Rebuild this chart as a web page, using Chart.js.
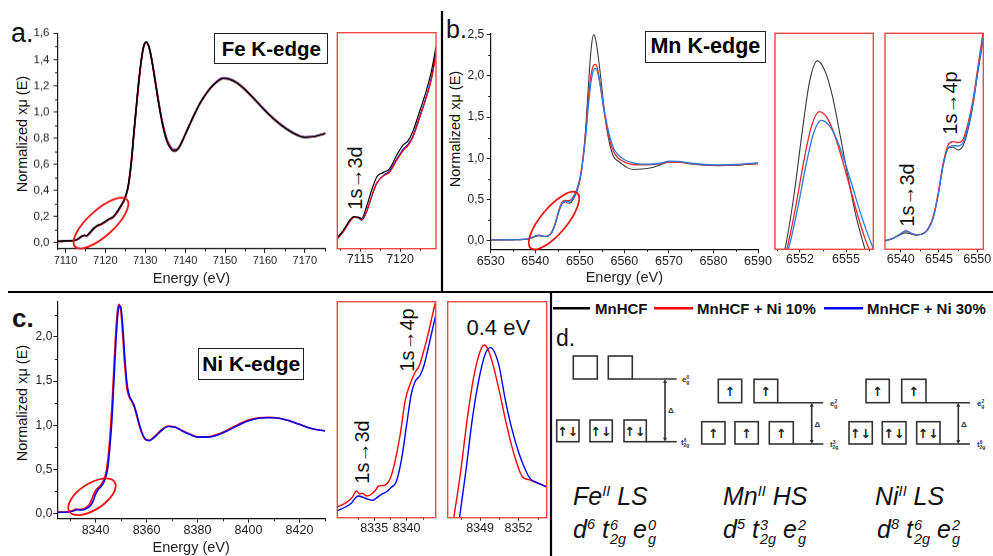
<!DOCTYPE html>
<html><head><meta charset="utf-8">
<script src="https://cdn.jsdelivr.net/npm/chart.js@4.4.1/dist/chart.umd.min.js"></script>
<style>
html,body{margin:0;padding:0;background:#fff;}
body{width:993px;height:556px;position:relative;overflow:hidden;font-family:"Liberation Sans",Arial,Helvetica,sans-serif;color:#111;}
canvas{position:absolute;}
.t{position:absolute;white-space:nowrap;line-height:1;}
.box{position:absolute;border:1.5px solid #222;box-sizing:border-box;display:flex;align-items:center;justify-content:center;font-weight:bold;color:#000;white-space:nowrap;}
.rot{position:absolute;white-space:nowrap;line-height:1;transform:translate(-50%,-50%) rotate(-90deg);color:#111;}
.ctr{position:absolute;white-space:nowrap;line-height:1;transform:translate(-50%,-50%);color:#111;}
.it{font-style:italic;font-size:25px;color:#111;}
.st{display:inline-block;vertical-align:-0.43em;font-size:0.58em;line-height:1;text-align:left;margin-left:1px;}
.st span{display:block;}
sup{font-size:0.58em;vertical-align:0.62em;line-height:0;}
.leg{position:absolute;white-space:nowrap;line-height:1;font-weight:bold;font-size:15px;color:#111;top:301px;}
</style></head><body>

<svg width="993" height="556" style="position:absolute;left:0;top:0" xmlns="http://www.w3.org/2000/svg" font-family="Liberation Sans, Arial, sans-serif">
<g stroke="#000" stroke-width="2.2" fill="none">
<line x1="442" y1="11" x2="442" y2="292"/>
<line x1="8" y1="292" x2="993" y2="292"/>
<line x1="551" y1="292" x2="551" y2="556"/>
</g>
<g stroke-width="2.5">
<line x1="553" y1="308.3" x2="590" y2="308.3" stroke="#000"/>
<line x1="654" y1="308.3" x2="693" y2="308.3" stroke="#f00"/>
<line x1="824" y1="308.3" x2="863" y2="308.3" stroke="#00f"/>
</g>
<g stroke="#333" stroke-width="1.6" fill="none">
<rect x="573.3" y="356" width="24" height="23"/>
<rect x="608.3" y="356" width="24" height="23"/>
<line x1="632.3" y1="379" x2="676.7" y2="379"/>
<rect x="556.7" y="420" width="22.3" height="21.7"/>
<rect x="590" y="420" width="22.3" height="21.7"/>
<rect x="624" y="420" width="22.3" height="21.7"/>
<line x1="646.3" y1="441.7" x2="676.7" y2="441.7"/>
<line x1="665" y1="381" x2="665" y2="440"/>
<rect x="718.3" y="379.3" width="23.4" height="23.4"/>
<rect x="754" y="379.3" width="23.7" height="23.4"/>
<line x1="777.7" y1="402.7" x2="823.3" y2="402.7"/>
<rect x="701.7" y="421.7" width="23.3" height="22.3"/>
<rect x="735" y="421.7" width="23.3" height="22.3"/>
<rect x="769.3" y="421.7" width="24" height="22.3"/>
<line x1="793.3" y1="444" x2="823.3" y2="444"/>
<line x1="811.7" y1="404.5" x2="811.7" y2="442.3"/>
<rect x="866" y="379.3" width="23.3" height="23.4"/>
<rect x="901.7" y="379.3" width="24.3" height="23.4"/>
<line x1="926" y1="402.7" x2="970" y2="402.7"/>
<rect x="849" y="421.7" width="23.3" height="22.3"/>
<rect x="882.3" y="421.7" width="23.7" height="22.3"/>
<rect x="916.7" y="421.7" width="23.3" height="22.3"/>
<line x1="940" y1="444" x2="970" y2="444"/>
<line x1="958.3" y1="404.5" x2="958.3" y2="442.3"/>
</g>
<g fill="#333">
<polygon points="665,379 663,383 667,383"/><polygon points="665,441.7 663,437.7 667,437.7"/>
<polygon points="811.7,402.7 809.7,406.7 813.7,406.7"/><polygon points="811.7,444 809.7,440 813.7,440"/>
<polygon points="958.3,402.7 956.3,406.7 960.3,406.7"/><polygon points="958.3,444 956.3,440 960.3,440"/>
</g>
<g font-size="12.5" font-weight="bold" fill="#222" text-anchor="middle" font-family="DejaVu Sans, sans-serif">
<text x="567.8" y="435.5">↑↓</text><text x="601.1" y="435.5">↑↓</text><text x="635.1" y="435.5">↑↓</text>
<text x="730" y="396">↑</text><text x="765.8" y="396">↑</text>
<text x="713.3" y="437.5">↑</text><text x="746.6" y="437.5">↑</text><text x="781.3" y="437.5">↑</text>
<text x="877.6" y="396">↑</text><text x="913.8" y="396">↑</text>
<text x="860.6" y="437.5">↑↓</text><text x="894.1" y="437.5">↑↓</text><text x="928.3" y="437.5">↑↓</text>
</g>
<g font-size="8" font-weight="bold" fill="#333">
<text x="668" y="413">Δ</text><text x="814.5" y="427">Δ</text><text x="961" y="427">Δ</text>
<text x="682" y="382">e<tspan font-size="5" dy="-3">0</tspan><tspan font-size="5" dx="-3" dy="5">g</tspan></text>
<text x="681" y="445">t<tspan font-size="5" dy="-3">6</tspan><tspan font-size="5" dx="-3" dy="5">2g</tspan></text>
<text x="830" y="406">e<tspan font-size="5" dy="-3">2</tspan><tspan font-size="5" dx="-3" dy="5">g</tspan></text>
<text x="830" y="447">t<tspan font-size="5" dy="-3">3</tspan><tspan font-size="5" dx="-3" dy="5">2g</tspan></text>
<text x="977" y="406">e<tspan font-size="5" dy="-3">2</tspan><tspan font-size="5" dx="-3" dy="5">g</tspan></text>
<text x="977" y="447">t<tspan font-size="5" dy="-3">6</tspan><tspan font-size="5" dx="-3" dy="5">2g</tspan></text>
</g>
</svg>

<div class="t" style="left:11px;top:20.4px;font-size:27px;">a.</div>
<div class="t" style="left:446px;top:17px;font-size:25px;">b.</div>
<div class="t" style="left:12px;top:304.7px;font-size:26px;font-weight:bold;">c.</div>
<div class="t" style="left:556px;top:327.2px;font-size:23px;">d.</div>

<div class="box" style="left:214.3px;top:33.3px;width:114px;height:30.7px;font-size:20.5px;">Fe K-edge</div>
<div class="box" style="left:645px;top:31px;width:120.7px;height:31.7px;font-size:21.5px;">Mn K-edge</div>
<div class="box" style="left:198.3px;top:348.3px;width:105.7px;height:31.7px;font-size:21px;">Ni K-edge</div>

<div class="rot" style="left:21.7px;top:133.7px;font-size:14.5px;">Normalized xμ (E)</div>
<div class="rot" style="left:455.3px;top:129px;font-size:14.5px;">Normalized xμ (E)</div>
<div class="rot" style="left:22.3px;top:403px;font-size:14.5px;">Normalized xμ (E)</div>

<div class="rot" style="left:355px;top:178.3px;font-size:20px;">1s→3d</div>
<div class="rot" style="left:906.7px;top:195px;font-size:20px;">1s→3d</div>
<div class="rot" style="left:950px;top:103.3px;font-size:20px;">1s→4p</div>
<div class="rot" style="left:361.7px;top:451.7px;font-size:20px;">1s→3d</div>
<div class="rot" style="left:406.7px;top:340px;font-size:20px;">1s→4p</div>
<div class="ctr" style="left:498.3px;top:327.5px;font-size:22px;">0.4 eV</div>

<div class="leg" style="left:595px;">MnHCF</div>
<div class="leg" style="left:697px;">MnHCF + Ni 10%</div>
<div class="leg" style="left:867px;">MnHCF + Ni 30%</div>

<div class="t it" style="left:573px;top:483.8px;">Fe<sup>II</sup> LS</div>
<div class="t it" style="left:723px;top:483.8px;">Mn<sup>II</sup> HS</div>
<div class="t it" style="left:875px;top:483.8px;">Ni<sup>II</sup> LS</div>
<div class="t it" style="left:573px;top:517.1px;">d<sup>6</sup> t<span class="st"><span>6</span><span>2g</span></span> e<span class="st"><span>0</span><span>g</span></span></div>
<div class="t it" style="left:723px;top:517.1px;">d<sup>5</sup> t<span class="st"><span>3</span><span>2g</span></span> e<span class="st"><span>2</span><span>g</span></span></div>
<div class="t it" style="left:877px;top:517.1px;">d<sup>8</sup> t<span class="st"><span>6</span><span>2g</span></span> e<span class="st"><span>2</span><span>g</span></span></div>

<script>
// ---------- Panel a: Fe K-edge ----------
const aEnergy = [7108, 7110, 7112, 7113, 7114, 7114.7, 7115.3, 7116, 7117, 7118, 7119, 7120, 7121, 7122, 7123, 7124, 7125, 7125.8, 7126.5, 7127.2, 7128, 7128.8, 7129.5, 7130.2, 7130.9, 7131.6, 7132.5, 7133.5, 7134.5, 7135.5, 7136.5, 7137.3, 7138.2, 7139.2, 7140.5, 7142, 7144, 7146, 7148, 7149.5, 7151, 7153, 7155, 7158, 7161, 7164, 7167, 7170, 7172.5, 7175.2];
const aBlack = [0.012, 0.014, 0.018, 0.028, 0.05, 0.058, 0.056, 0.075, 0.11, 0.133, 0.145, 0.165, 0.185, 0.2, 0.24, 0.29, 0.35, 0.45, 0.62, 0.86, 1.12, 1.35, 1.49, 1.535, 1.5, 1.4, 1.23, 1.04, 0.88, 0.77, 0.715, 0.70, 0.715, 0.77, 0.86, 0.96, 1.08, 1.17, 1.23, 1.255, 1.25, 1.22, 1.17, 1.075, 0.98, 0.9, 0.84, 0.806, 0.812, 0.836];
const aRed = [0.012, 0.014, 0.017, 0.026, 0.048, 0.057, 0.055, 0.07, 0.105, 0.13, 0.142, 0.16, 0.18, 0.196, 0.235, 0.285, 0.345, 0.44, 0.61, 0.85, 1.11, 1.34, 1.485, 1.532, 1.5, 1.405, 1.24, 1.05, 0.89, 0.78, 0.722, 0.705, 0.718, 0.772, 0.86, 0.96, 1.08, 1.17, 1.232, 1.257, 1.252, 1.222, 1.172, 1.077, 0.982, 0.902, 0.842, 0.807, 0.813, 0.837];
const aBlue = [0.012, 0.014, 0.017, 0.026, 0.048, 0.057, 0.055, 0.07, 0.104, 0.129, 0.142, 0.161, 0.181, 0.197, 0.236, 0.286, 0.345, 0.44, 0.61, 0.85, 1.11, 1.34, 1.485, 1.532, 1.502, 1.408, 1.245, 1.055, 0.895, 0.785, 0.727, 0.712, 0.722, 0.775, 0.862, 0.962, 1.082, 1.172, 1.235, 1.26, 1.255, 1.225, 1.175, 1.08, 0.985, 0.905, 0.844, 0.808, 0.814, 0.838];
const aTicksX = [7110, 7120, 7130, 7140, 7150, 7160, 7170];
const aTicksY = [0, 0.2, 0.4, 0.6, 0.8, 1.0, 1.2, 1.4, 1.6];

const aInsetEnergy = [7112.15, 7112.9, 7113.7, 7114.2, 7114.8, 7115.2, 7115.8, 7116.45, 7117.1, 7117.9, 7118.7, 7119.6, 7120.4, 7121.0, 7121.6, 7122.5, 7123.3, 7123.95, 7124.5];
const aInsetBlack = [0.02, 0.032, 0.049, 0.055, 0.054, 0.052, 0.072, 0.1, 0.123, 0.13, 0.137, 0.16, 0.177, 0.184, 0.2, 0.236, 0.27, 0.304, 0.344];
const aInsetRed = [0.017, 0.029, 0.046, 0.054, 0.054, 0.05, 0.064, 0.09, 0.113, 0.124, 0.131, 0.151, 0.168, 0.176, 0.19, 0.225, 0.258, 0.29, 0.33];
const aInsetBlue = [0.018, 0.03, 0.047, 0.054, 0.053, 0.049, 0.063, 0.089, 0.112, 0.125, 0.133, 0.153, 0.17, 0.178, 0.192, 0.227, 0.26, 0.293, 0.334];
const aInsetTicksX = [7115, 7120];

// ---------- Panel b: Mn K-edge ----------
const bEnergy = [6530, 6535, 6537, 6538.5, 6539.5, 6540.2, 6540.8, 6541.5, 6542.3, 6543, 6543.7, 6544.4, 6545, 6545.6, 6546.2, 6546.8, 6547.4, 6548.1, 6548.8, 6549.5, 6550.1, 6550.7, 6551.3, 6551.9, 6552.5, 6553.1, 6553.6, 6554.1, 6554.7, 6555.3, 6556, 6556.8, 6557.6, 6558.5, 6559.5, 6560.5, 6562, 6564, 6566, 6568, 6570, 6572, 6575, 6578, 6581, 6585, 6590];
const bBlack = [0.01, 0.012, 0.015, 0.022, 0.04, 0.055, 0.062, 0.055, 0.05, 0.06, 0.1, 0.19, 0.3, 0.4, 0.46, 0.47, 0.455, 0.47, 0.53, 0.62, 0.75, 0.98, 1.35, 1.85, 2.3, 2.5, 2.43, 2.25, 1.98, 1.68, 1.38, 1.15, 1.02, 0.97, 0.93, 0.89, 0.865, 0.87, 0.885, 0.92, 0.955, 0.955, 0.93, 0.915, 0.91, 0.915, 0.935];
const bRed = [0.01, 0.012, 0.015, 0.023, 0.045, 0.062, 0.068, 0.06, 0.052, 0.062, 0.105, 0.2, 0.31, 0.42, 0.48, 0.49, 0.485, 0.5, 0.56, 0.65, 0.78, 1.0, 1.3, 1.7, 2.0, 2.13, 2.14, 2.05, 1.85, 1.62, 1.4, 1.2, 1.08, 1.01, 0.97, 0.945, 0.925, 0.92, 0.925, 0.935, 0.955, 0.955, 0.935, 0.92, 0.915, 0.92, 0.94];
const bBlue = [0.01, 0.012, 0.015, 0.023, 0.044, 0.06, 0.066, 0.058, 0.052, 0.06, 0.1, 0.19, 0.3, 0.41, 0.465, 0.48, 0.475, 0.49, 0.55, 0.64, 0.76, 0.97, 1.25, 1.62, 1.92, 2.07, 2.09, 2.02, 1.85, 1.64, 1.44, 1.25, 1.12, 1.05, 1.0, 0.97, 0.945, 0.93, 0.93, 0.94, 0.965, 0.962, 0.94, 0.925, 0.92, 0.925, 0.945];
const bTicksX = [6530, 6540, 6550, 6560, 6570, 6580, 6590];
const bTicksY = [0, 0.5, 1.0, 1.5, 2.0, 2.5];

const bPeakBlackE = [6550.93, 6551.13, 6551.63, 6552.13, 6552.63, 6553.13, 6553.63, 6554.13, 6554.63, 6555.13, 6555.63, 6556.13, 6556.33];
const bPeakBlack = [1.16, 1.26, 1.59, 2.0, 2.36, 2.5, 2.43, 2.25, 1.98, 1.7, 1.44, 1.24, 1.17];
const bPeakRedE = [6550.95, 6551.25, 6551.75, 6552.25, 6552.75, 6553.25, 6553.75, 6554.25, 6554.75, 6555.25, 6555.75, 6556.25, 6556.75];
const bPeakRed = [1.13, 1.25, 1.51, 1.81, 2.05, 2.15, 2.11, 1.99, 1.82, 1.63, 1.44, 1.27, 1.14];
const bPeakBlueE = [6551.1, 6551.4, 6551.9, 6552.4, 6552.9, 6553.4, 6553.9, 6554.4, 6554.9, 6555.4, 6555.9, 6556.4, 6556.8];
const bPeakBlue = [1.149, 1.264, 1.51, 1.785, 2.006, 2.09, 2.055, 1.957, 1.81, 1.64, 1.465, 1.308, 1.2];
const bPeakTicksX = [6552, 6555];

const bPreEnergy = [6537.95, 6539.0, 6539.9, 6540.65, 6541.4, 6542.1, 6543.0, 6543.6, 6544.25, 6544.9, 6545.55, 6546.2, 6546.85, 6547.5, 6548.1, 6548.8, 6549.45, 6550.1, 6550.8];
const bPreRed = [0.018, 0.03, 0.049, 0.066, 0.054, 0.046, 0.054, 0.078, 0.134, 0.246, 0.39, 0.479, 0.495, 0.49, 0.503, 0.583, 0.695, 0.855, 1.03];
const bPreBlue = [0.018, 0.03, 0.049, 0.064, 0.054, 0.046, 0.052, 0.074, 0.128, 0.238, 0.38, 0.463, 0.476, 0.474, 0.487, 0.567, 0.679, 0.839, 1.0];
const bPreBlack = [0.018, 0.029, 0.046, 0.056, 0.05, 0.046, 0.054, 0.076, 0.13, 0.24, 0.382, 0.463, 0.468, 0.455, 0.471, 0.551, 0.671, 0.831, 0.99];
const bPreTicksX = [6540, 6545, 6550];

// ---------- Panel c: Ni K-edge ----------
const cEnergy = [8325, 8329, 8331, 8332.3, 8333, 8334, 8335, 8336.3, 8337.5, 8338.5, 8339.3, 8340, 8341, 8342, 8343, 8344, 8344.8, 8345.6, 8346.4, 8347.2, 8348, 8348.7, 8349.3, 8349.9, 8350.6, 8351.4, 8352.3, 8353.2, 8354.2, 8355.2, 8356.2, 8357.2, 8358.3, 8359.5, 8361, 8363, 8365.5, 8368.5, 8371, 8374, 8377, 8380, 8384, 8388, 8392, 8396, 8400, 8404, 8408, 8412, 8416, 8420, 8425, 8430];
const cRed = [0.015, 0.02, 0.03, 0.05, 0.048, 0.045, 0.05, 0.07, 0.1, 0.16, 0.22, 0.26, 0.29, 0.32, 0.37, 0.45, 0.6, 0.85, 1.2, 1.65, 2.08, 2.32, 2.37, 2.3, 2.05, 1.7, 1.42, 1.32, 1.27, 1.2, 1.1, 0.99, 0.9, 0.84, 0.83, 0.87, 0.94, 0.99, 0.98, 0.94, 0.9, 0.87, 0.87, 0.9, 0.95, 1.01, 1.06, 1.085, 1.09, 1.08, 1.05, 1.01, 0.96, 0.935];
const cBlue = [0.012, 0.017, 0.025, 0.04, 0.042, 0.04, 0.04, 0.055, 0.075, 0.11, 0.16, 0.22, 0.27, 0.3, 0.34, 0.41, 0.52, 0.75, 1.05, 1.5, 1.95, 2.25, 2.35, 2.34, 2.15, 1.8, 1.48, 1.34, 1.28, 1.22, 1.12, 1.01, 0.91, 0.845, 0.825, 0.86, 0.93, 0.985, 0.98, 0.935, 0.895, 0.865, 0.865, 0.89, 0.94, 1.0, 1.05, 1.08, 1.085, 1.08, 1.05, 1.01, 0.96, 0.935];
const cTicksX = [8340, 8360, 8380, 8400, 8420];
const cTicksY = [0, 0.5, 1.0, 1.5, 2.0];

const cPreRedE = [8329.3, 8330.5, 8331.5, 8332.3, 8332.8, 8333.2, 8333.85, 8334.5, 8335.2, 8335.7, 8336.4, 8336.9, 8337.5, 8338.2, 8339, 8339.8, 8340.5, 8341.3, 8342, 8342.6, 8343.3, 8344, 8344.5];
const cPreRed = [0.02, 0.029, 0.042, 0.061, 0.053, 0.055, 0.048, 0.052, 0.063, 0.074, 0.075, 0.079, 0.094, 0.136, 0.205, 0.296, 0.335, 0.367, 0.386, 0.42, 0.464, 0.516, 0.55];
const cPreBlueE = [8329.3, 8330.5, 8331.5, 8332.2, 8332.65, 8333.2, 8334, 8334.8, 8335.5, 8336.2, 8336.9, 8337.6, 8338.4, 8339.2, 8340, 8340.7, 8341.3, 8342.1, 8342.7, 8343.2, 8343.8, 8344.5];
const cPreBlue = [0.0097, 0.019, 0.03, 0.045, 0.048, 0.045, 0.04, 0.037, 0.045, 0.053, 0.059, 0.07, 0.085, 0.141, 0.231, 0.309, 0.343, 0.36, 0.386, 0.42, 0.464, 0.515];
const cPreTicksX = [8335, 8340];

const cPeakRedE = [8346.9, 8347.5, 8348.0, 8348.5, 8349.0, 8349.3, 8349.6, 8350.0, 8350.56, 8351.0, 8351.6, 8352.3, 8352.8, 8353.2, 8353.7, 8354.2];
const cPeakRed = [1.0, 1.4, 1.8, 2.12, 2.32, 2.37, 2.34, 2.22, 1.985, 1.78, 1.54, 1.348, 1.325, 1.31, 1.29, 1.27];
const cPeakBlueE = [8347.35, 8347.9, 8348.4, 8348.9, 8349.4, 8349.8, 8350.1, 8350.5, 8350.9, 8351.4, 8352.0, 8352.5, 8352.9, 8353.5, 8354.2];
const cPeakBlue = [1.0, 1.4, 1.8, 2.1, 2.3, 2.35, 2.32, 2.2, 1.98, 1.75, 1.54, 1.41, 1.335, 1.3, 1.27];
const cPeakTicksX = [8349, 8352];

// ---------- helpers ----------
const FONT = '"Liberation Sans", Arial, Helvetica, sans-serif';
Chart.defaults.font.family = FONT;

function minorOf(t) {
  const step = t[1] - t[0];
  const out = [];
  for (let v = t[0] - step / 2; v <= t[t.length - 1] + step; v += step) out.push(v);
  return out;
}

Chart.register({
  id: 'minorTicks',
  afterDraw(chart, args, o) {
    if (!o || !o.len) return;
    const ctx = chart.ctx;
    ctx.save(); ctx.strokeStyle = o.color || '#222'; ctx.lineWidth = 1;
    ['x', 'y'].forEach(k => {
      const vals = o[k]; if (!vals) return;
      const s = chart.scales[k];
      vals.forEach(v => {
        if (v < s.min || v > s.max) return;
        const p = Math.round(s.getPixelForValue(v)) + 0.5;
        ctx.beginPath();
        if (k === 'x') { ctx.moveTo(p, s.top); ctx.lineTo(p, s.top + o.len); }
        else { ctx.moveTo(s.right, p); ctx.lineTo(s.right - o.len, p); }
        ctx.stroke();
      });
    });
    ctx.restore();
  }
});
Chart.register({
  id: 'frame',
  afterDraw(chart, args, o) {
    if (!o || !o.color) return;
    const a = chart.chartArea, ctx = chart.ctx;
    ctx.save(); ctx.strokeStyle = o.color; ctx.lineWidth = o.width || 1.4;
    ctx.strokeRect(a.left, a.top, a.right - a.left, a.bottom - a.top);
    ctx.restore();
  }
});
Chart.register({
  id: 'ellipse',
  afterDatasetsDraw(chart, args, o) {
    if (!o || o.x === undefined) return;
    const ctx = chart.ctx;
    const px = chart.scales.x.getPixelForValue(o.x), py = chart.scales.y.getPixelForValue(o.y);
    ctx.save(); ctx.strokeStyle = '#f01010'; ctx.lineWidth = 1.8;
    ctx.beginPath(); ctx.ellipse(px, py, o.rx, o.ry, o.angle * Math.PI / 180, 0, 2 * Math.PI); ctx.stroke();
    ctx.restore();
  }
});

function series(xs, ys, color, width) {
  return { data: xs.map((x, i) => ({ x: x, y: ys[i] })), borderColor: color, borderWidth: width,
    pointRadius: 0, fill: false, cubicInterpolationMode: 'monotone' };
}

function makeChart(rect, area, datasets, c) {
  const cv = document.createElement('canvas');
  cv.width = rect.w; cv.height = rect.h;
  Object.assign(cv.style, { left: rect.x + 'px', top: rect.y + 'px', width: rect.w + 'px', height: rect.h + 'px' });
  document.body.appendChild(cv);
  const isMain = !!c.yticks;
  return new Chart(cv, {
    type: 'line',
    data: { datasets: datasets },
    options: {
      responsive: false, animation: false, devicePixelRatio: 1, events: [],
      layout: { padding: { top: area.t - rect.y, right: rect.x + rect.w - area.r, bottom: 0, left: isMain ? 0 : area.l - rect.x } },
      plugins: {
        legend: { display: false }, tooltip: { enabled: false },
        minorTicks: { x: minorOf(c.xticks), y: isMain ? minorOf(c.yticks) : null, len: c.minorLen, color: '#222' },
        frame: c.frame ? { color: c.frame, width: 1.4 } : {},
        ellipse: c.ellipse || {}
      },
      scales: {
        x: {
          type: 'linear', min: c.xmin, max: c.xmax,
          border: { display: isMain, color: '#111', width: 1.2 },
          grid: { drawOnChartArea: false, drawTicks: true, tickLength: c.tickLen, tickColor: '#222', tickWidth: 1 },
          ticks: { font: { family: FONT, size: c.xfont }, color: '#222', padding: c.xpad, maxRotation: 0, autoSkip: false, callback: v => String(v) },
          title: { display: !!c.xtitle, text: c.xtitle || '', font: { family: FONT, size: 14.5 }, color: '#222', padding: 0 },
          afterBuildTicks: s => { s.ticks = c.xticks.map(v => ({ value: v })); },
          afterFit: s => { s.height = rect.y + rect.h - area.b; }
        },
        y: {
          type: 'linear', min: c.ymin, max: c.ymax, display: isMain,
          border: { display: true, color: '#111', width: 1.2 },
          grid: { drawOnChartArea: false, drawTicks: true, tickLength: c.tickLen, tickColor: '#222', tickWidth: 1 },
          ticks: { font: { family: FONT, size: c.yfont || 12 }, color: '#222', padding: c.ypad || 3, callback: v => v.toFixed(1).replace('.', ',') },
          afterBuildTicks: s => { if (isMain) s.ticks = c.yticks.map(v => ({ value: v })); },
          afterFit: s => { if (isMain) s.width = area.l - rect.x; }
        }
      }
    }
  });
}

// ---------- Panel a ----------
makeChart({ x: 0, y: 0, w: 345, h: 287.7 }, { l: 57.5, t: 33.3, r: 325.5, b: 248.7 },
  [series(aEnergy, aBlack, '#000', 1.6), series(aEnergy, aRed, '#ff0000', 1.6), series(aEnergy, aBlue, '#0000ff', 1.6)],
  { xmin: 7108, xmax: 7175.2, xticks: aTicksX, ymin: -0.046, ymax: 1.6, yticks: aTicksY,
    xfont: 11, yfont: 11.5, xpad: 1.5, ypad: 4, tickLen: 4, minorLen: 2.5, xtitle: 'Energy (eV)',
    ellipse: { x: 7118.9, y: 0.151, rx: 35, ry: 13, angle: -42 } });

makeChart({ x: 330, y: 20, w: 115, h: 255 }, { l: 337.3, t: 32.7, r: 436, b: 248.7 },
  [series(aInsetEnergy, aInsetBlack, '#000', 1.2), series(aInsetEnergy, aInsetRed, '#ff0000', 1.2), series(aInsetEnergy, aInsetBlue, '#0000ff', 1.2)],
  { xmin: 7112.15, xmax: 7124.5, xticks: aInsetTicksX, ymin: 0.0006, ymax: 0.368,
    xfont: 12.5, xpad: 0, tickLen: 3, minorLen: 2, frame: '#f24646' });

// ---------- Panel b ----------
makeChart({ x: 440, y: 10, w: 338, h: 277 }, { l: 490.7, t: 34, r: 758, b: 249.3 },
  [series(bEnergy, bBlue, '#2b7be0', 1.3), series(bEnergy, bRed, '#e8262b', 1.3), series(bEnergy, bBlack, '#3a3a3a', 1.1)],
  { xmin: 6530, xmax: 6590, xticks: bTicksX, ymin: -0.104, ymax: 2.508, yticks: bTicksY,
    xfont: 12.5, yfont: 12, xpad: 0.5, ypad: 2.5, tickLen: 4, minorLen: 2.5, xtitle: 'Energy (eV)',
    ellipse: { x: 6544.2, y: 0.244, rx: 36, ry: 13, angle: -50 } });

makeChart({ x: 770, y: 20, w: 110, h: 255 }, { l: 775, t: 33.3, r: 873.3, b: 249.3 },
  [series(bPeakBlueE, bPeakBlue, '#2b7be0', 1.3), series(bPeakRedE, bPeakRed, '#e8262b', 1.3), series(bPeakBlackE, bPeakBlack, '#3a3a3a', 1.1)],
  { xmin: 6550.37, xmax: 6556.78, xticks: bPeakTicksX, ymin: 1.2, ymax: 2.69,
    xfont: 12.5, xpad: 0, tickLen: 3, minorLen: 2, frame: '#f24646' });

makeChart({ x: 880, y: 20, w: 113, h: 255 }, { l: 885, t: 33.3, r: 983.3, b: 249.3 },
  [series(bPreEnergy, bPreBlue, '#2b7be0', 1.3), series(bPreEnergy, bPreRed, '#e8262b', 1.3), series(bPreEnergy, bPreBlack, '#3a3a3a', 1.1)],
  { xmin: 6537.95, xmax: 6550.8, xticks: bPreTicksX, ymin: -0.023, ymax: 1.016,
    xfont: 12.5, xpad: 0, tickLen: 3, minorLen: 2, frame: '#f24646' });

// ---------- Panel c ----------
makeChart({ x: 0, y: 290, w: 345, h: 267 }, { l: 57.3, t: 301.7, r: 325, b: 518.7 },
  [series(cEnergy, cBlue, '#0000ff', 1.6), series(cEnergy, cRed, '#ff0000', 1.6)],
  { xmin: 8325, xmax: 8430, xticks: cTicksX, ymin: -0.059, ymax: 2.4, yticks: cTicksY,
    xfont: 12.5, yfont: 12, xpad: 0.5, ypad: 1, tickLen: 4, minorLen: 2.5, xtitle: 'Energy (eV)',
    ellipse: { x: 8338.6, y: 0.19, rx: 27, ry: 13, angle: -33 } });

makeChart({ x: 330, y: 290, w: 115, h: 255 }, { l: 337.3, t: 301.7, r: 435.7, b: 517.7 },
  [series(cPreBlueE, cPreBlue, '#0000ff', 1.4), series(cPreRedE, cPreRed, '#ff0000', 1.4)],
  { xmin: 8329.3, xmax: 8344.5, xticks: cPreTicksX, ymin: -0.008, ymax: 0.55,
    xfont: 12.5, xpad: 0, tickLen: 3, minorLen: 2, frame: '#f24646' });

makeChart({ x: 440, y: 290, w: 112, h: 255 }, { l: 447.7, t: 301.7, r: 546.7, b: 517.7 },
  [series(cPeakBlueE, cPeakBlue, '#0000ff', 1.4), series(cPeakRedE, cPeakRed, '#ff0000', 1.4)],
  { xmin: 8346.47, xmax: 8354.2, xticks: cPeakTicksX, ymin: 1.03, ymax: 2.706,
    xfont: 12.5, xpad: 0, tickLen: 3, minorLen: 2, frame: '#f24646' });
</script>
</body></html>
